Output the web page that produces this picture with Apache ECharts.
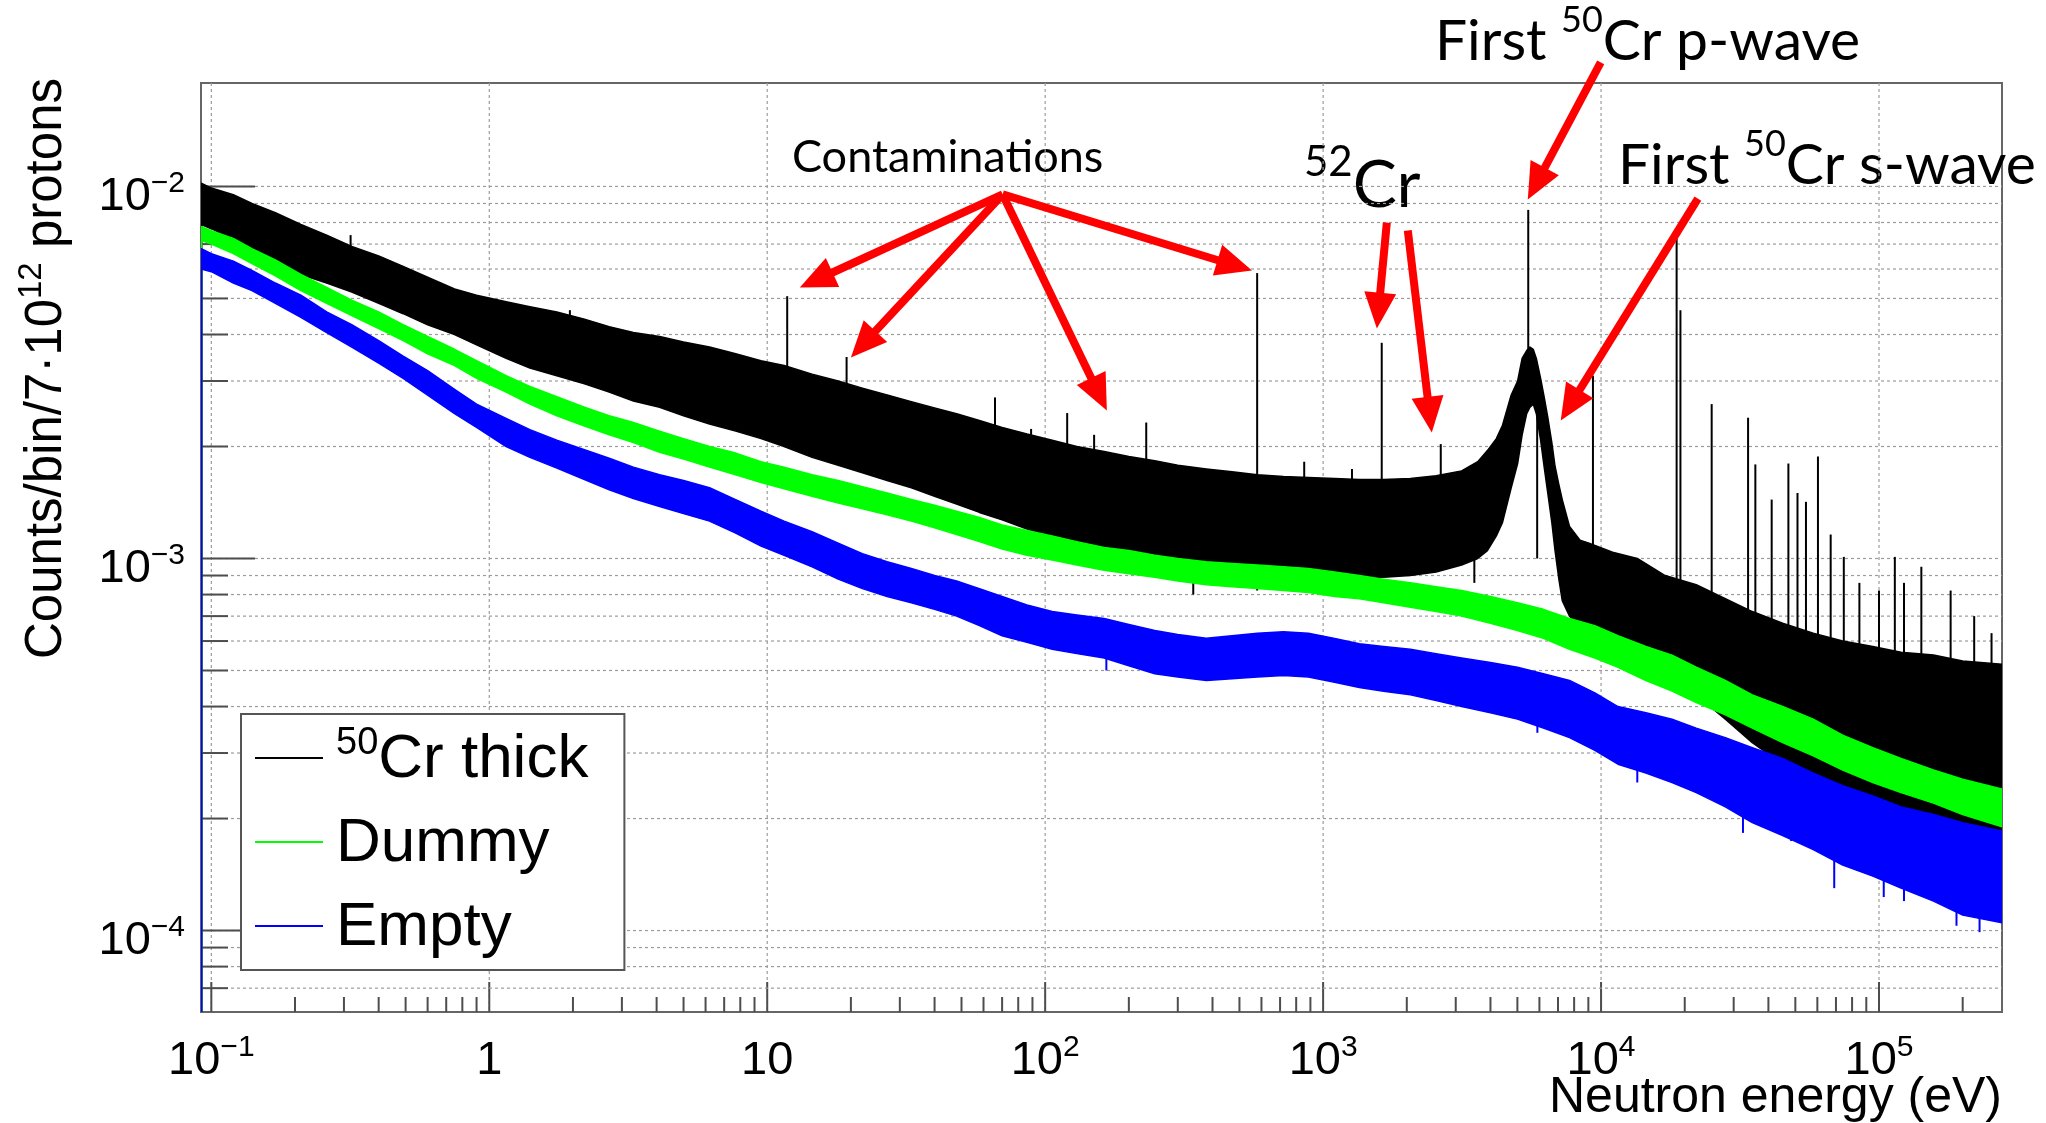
<!DOCTYPE html>
<html>
<head>
<meta charset="utf-8">
<title>50Cr capture yield – neutron energy spectra</title>
<script src="https://cdn.jsdelivr.net/npm/echarts@6.0.0/dist/echarts.min.js"></script>
<style>
  html, body { margin: 0; padding: 0; background: #ffffff; }
  #chart { width: 2046px; height: 1123px; }
</style>
</head>
<body>
<div id="chart"></div>
<script>
// Counts per bin are written in units of 1e-3 counts/bin/7·10^12 protons.
const UNIT = 1e-3;

// 50Cr thick sample: lower / upper edge of the (noisy) histogram band
const blackEnergy = [0.092,0.1,0.12,0.14,0.17,0.21,0.26,0.32,0.4,0.49,
  0.6,0.75,0.9,1.15,1.4,1.75,2.2,2.7,3.3,4.1,
  5,6.2,7.7,9.5,11.5,14.5,18,22,27,33,
  40,48,58,70,86,106,130,163,200,248,
  300,380,470,580,720,885,1100,1350,1650,2060,
  2550,3150,3600,3900,4200,4420,4750,5010,5200,5400,
  5550,5700,5850,6060,6250,6430,6650,6830,7050,7250,
  7700,8400,9050,11000,13500,17000,22000,28000,35000,45000,
  58000,74000,95000,120000,157000,200000,277000];
const blackLow = [7.9,7.7,7.2,6.7,6.3,5.8,5.5,5.2,4.85,4.55,
  4.25,4.0,3.75,3.45,3.25,3.1,2.95,2.8,2.65,2.55,
  2.42,2.3,2.2,2.1,2.0,1.87,1.78,1.7,1.62,1.55,
  1.47,1.4,1.33,1.27,1.2,1.14,1.09,1.05,1.01,0.98,
  0.96,0.94,0.93,0.92,0.91,0.90,0.89,0.89,0.89,0.90,
  0.92,0.96,1.0,1.05,1.15,1.25,1.55,1.8,2.15,2.45,
  2.55,2.6,2.45,2.08,1.75,1.5,1.25,1.05,0.88,0.77,
  0.70,0.66,0.63,0.60,0.55,0.48,0.43,0.37,0.32,0.28,
  0.26,0.23,0.21,0.19,0.175,0.165,0.16];
const blackHigh = [10.2,9.9,9.5,9.0,8.5,7.9,7.4,6.9,6.5,6.1,
  5.7,5.3,5.1,4.9,4.75,4.6,4.4,4.2,4.05,3.95,
  3.82,3.7,3.55,3.4,3.3,3.13,3.0,2.87,2.75,2.64,
  2.54,2.45,2.35,2.25,2.16,2.08,2.0,1.94,1.88,1.83,
  1.78,1.74,1.71,1.68,1.66,1.65,1.64,1.63,1.63,1.64,
  1.67,1.72,1.82,1.95,2.10,2.28,2.75,3.0,3.45,3.62,
  3.70,3.65,3.45,3.05,2.70,2.40,2.05,1.77,1.58,1.44,
  1.22,1.12,1.10,1.04,1.0,0.9,0.85,0.78,0.72,0.67,
  0.63,0.6,0.58,0.56,0.55,0.53,0.52];

// Narrow resonances / contaminant lines on top of the 50Cr spectrum
const blackPeakEnergy = [0.317,1.95,11.8,19.3,66,89,120,150,231,579,
  855,1270,1625,2650,3300,5470,9350,18700,19300,25000,
  33800,35900,41100,47200,50900,54600,60300,67000,74700,85000,
  100000,114000,123000,142000,181000,220000,254000];
const blackPeakTop = [7.4,4.65,5.07,3.48,2.71,2.23,2.46,2.15,2.32,5.85,
  1.82,1.74,3.8,2.03,1.75,8.65,3.1,7.36,4.65,2.6,
  2.39,1.79,1.44,1.80,1.5,1.42,1.88,1.16,1.01,0.86,
  0.82,1.01,0.86,0.95,0.82,0.70,0.63];
const blackPeakBase = [6.0,3.8,2.6,2.3,1.8,1.6,1.5,1.4,1.3,1.25,
  1.2,1.2,1.2,1.2,1.3,3.0,0.85,0.7,0.7,0.6,
  0.55,0.55,0.5,0.5,0.45,0.45,0.45,0.4,0.4,0.4,
  0.4,0.4,0.4,0.4,0.4,0.35,0.35];
const blackDipEnergy = [341,579,3500,5890];
const blackDipBottom = [0.80,0.82,0.86,1.0];
const blackDipTop = [1.2,1.2,1.2,2.5];

// Dummy and Empty runs share one energy grid
const backgroundEnergy = [0.092,0.1,0.12,0.14,0.17,0.21,0.26,0.32,0.4,0.49,
  0.6,0.75,0.9,1.15,1.4,1.75,2.2,2.7,3.3,4.1,
  5,6.2,7.7,9.5,11.5,14.5,18,22,27,33,
  40,48,58,70,86,106,130,163,200,248,
  300,380,470,580,720,885,1100,1350,1650,2060,
  2550,3150,4000,5000,6200,7700,9500,11500,14500,18000,
  22000,28000,35000,45000,58000,74000,95000,120000,157000,200000,
  277000];
const dummyLow = [7.15,7.0,6.6,6.2,5.75,5.25,4.85,4.5,4.15,3.85,
  3.55,3.3,3.05,2.8,2.6,2.42,2.27,2.15,2.05,1.93,
  1.85,1.76,1.68,1.6,1.54,1.47,1.41,1.36,1.31,1.26,
  1.21,1.16,1.11,1.06,1.02,0.99,0.96,0.93,0.91,0.89,
  0.87,0.85,0.84,0.83,0.82,0.81,0.79,0.78,0.76,0.74,
  0.72,0.70,0.67,0.64,0.61,0.57,0.54,0.51,0.47,0.44,
  0.41,0.38,0.35,0.32,0.295,0.27,0.25,0.235,0.22,0.205,
  0.19];
const dummyHigh = [7.8,7.6,7.25,6.8,6.35,5.8,5.35,4.95,4.6,4.25,
  3.95,3.65,3.4,3.1,2.9,2.72,2.55,2.42,2.32,2.2,
  2.1,2.0,1.92,1.82,1.76,1.68,1.62,1.56,1.5,1.44,
  1.39,1.34,1.29,1.23,1.19,1.15,1.11,1.07,1.05,1.02,
  1.0,0.98,0.97,0.96,0.95,0.94,0.92,0.90,0.88,0.86,
  0.84,0.82,0.79,0.76,0.73,0.69,0.66,0.62,0.58,0.55,
  0.51,0.47,0.43,0.40,0.37,0.335,0.31,0.29,0.27,0.255,
  0.24];
const emptyLow = [6.0,5.9,5.5,5.25,4.85,4.45,4.05,3.7,3.35,3.05,
  2.75,2.45,2.25,2.0,1.87,1.75,1.63,1.53,1.45,1.38,
  1.32,1.26,1.17,1.08,1.02,0.95,0.88,0.83,0.79,0.76,
  0.73,0.70,0.66,0.62,0.595,0.57,0.555,0.54,0.515,0.49,
  0.48,0.47,0.475,0.48,0.485,0.48,0.465,0.45,0.44,0.43,
  0.415,0.40,0.385,0.37,0.35,0.33,0.305,0.28,0.265,0.25,
  0.235,0.215,0.195,0.18,0.165,0.15,0.14,0.13,0.12,0.11,
  0.105];
const emptyHigh = [6.8,6.6,6.3,5.95,5.5,5.1,4.6,4.25,3.85,3.5,
  3.2,2.85,2.6,2.38,2.22,2.08,1.96,1.86,1.76,1.68,
  1.62,1.55,1.44,1.34,1.26,1.18,1.1,1.03,0.98,0.94,
  0.9,0.87,0.83,0.79,0.75,0.72,0.705,0.69,0.665,0.64,
  0.625,0.61,0.62,0.63,0.635,0.63,0.61,0.59,0.58,0.57,
  0.555,0.54,0.525,0.51,0.49,0.47,0.435,0.40,0.385,0.37,
  0.35,0.33,0.31,0.29,0.265,0.245,0.23,0.215,0.205,0.195,
  0.185];
const emptyDipEnergy = [166,5900,13500,32400,48300,69000,104000,123000,190000,230000];
const emptyDipBottom = [0.50,0.34,0.25,0.183,0.174,0.13,0.123,0.12,0.103,0.099];
const emptyDipTop = [0.58,0.42,0.33,0.25,0.22,0.19,0.17,0.165,0.15,0.14];

// Axis decades and minor multipliers (log axes)
const xDecades = [0.1, 1, 10, 100, 1000, 10000, 100000];
const yDecades = [1e-5, 1e-4, 1e-3, 1e-2];
const minorMultipliers = [2, 3, 4, 5, 6, 7, 8, 9];
const X_MIN = 0.0918, X_MAX = 2.77e5, Y_MIN = 6.04e-5, Y_MAX = 1.897e-2;

// Annotation arrows: tail (energy, counts) -> head (energy, counts)
const arrowFromEnergy = [70.3, 70.3, 70.3, 70.3, 1695, 2017, 9970, 22300];
const arrowFromCounts = [9.52, 9.52, 9.52, 9.52, 8.0, 7.61, 21.54, 9.28];
const arrowToEnergy = [13.1, 20.0, 166.7, 554.6, 1561, 2460, 5450, 7160];
const arrowToCounts = [5.35, 3.47, 2.50, 5.94, 4.15, 2.18, 9.23, 2.35];

const SERIES_NAMES = ['50Cr thick', 'Dummy', 'Empty'];
const NOTE_FONT = 'Lato';

function bandSeries(name, color, energy, low, high, z) {
  const data = energy.map((e, i) => [e, low[i] * UNIT, high[i] * UNIT]);
  return {
    name: name, type: 'custom', coordinateSystem: 'cartesian2d', z: z, silent: true, clip: true,
    itemStyle: { color: color },
    encode: { x: 0, y: [1, 2] },
    data: data,
    renderItem: function (params, api) {
      if (params.dataIndex !== 0) return null;
      const top = data.map(d => api.coord([d[0], d[2]]));
      const bottom = data.map(d => api.coord([d[0], d[1]]));
      const floor = api.coord([data[0][0], Y_MIN]);
      return {
        type: 'group',
        children: [
          { type: 'polygon', shape: { points: top.concat(bottom.slice().reverse()) },
            style: { fill: color, stroke: color, lineWidth: 1.5, lineJoin: 'round' } },
          { type: 'line', shape: { x1: floor[0], y1: floor[1], x2: bottom[0][0], y2: bottom[0][1] },
            style: { stroke: color, lineWidth: 2.5 } }
        ]
      };
    }
  };
}

function segmentSeries(color, energy, from, to, width, z) {
  return {
    type: 'custom', coordinateSystem: 'cartesian2d', z: z, silent: true, clip: true,
    encode: { x: 0, y: [1, 2] },
    data: energy.map((e, i) => [e, from[i] * UNIT, to[i] * UNIT]),
    renderItem: function (params, api) {
      const a = api.coord([api.value(0), api.value(1)]);
      const b = api.coord([api.value(0), api.value(2)]);
      return { type: 'line', shape: { x1: a[0], y1: a[1], x2: b[0], y2: b[1] },
               style: { stroke: color, lineWidth: width } };
    }
  };
}

// Dotted grid and inward ROOT-style ticks (major at decades, minor at 2..9)
const axisDecor = {
  type: 'custom', coordinateSystem: 'cartesian2d', z: 1, silent: true, clip: false,
  data: [[1, 1e-3]],
  renderItem: function (params, api) {
    const cs = params.coordSys;
    const left = cs.x, top = cs.y, right = cs.x + cs.width, bottom = cs.y + cs.height;
    const kids = [];
    const gridStyle = { stroke: '#9c9c9c', lineWidth: 1.2, lineDash: [3, 3] };
    const tickStyle = { stroke: '#4d4d4d', lineWidth: 2 };
    const seg = (x1, y1, x2, y2, style) =>
      kids.push({ type: 'line', shape: { x1: x1, y1: y1, x2: x2, y2: y2 }, style: style });
    xDecades.forEach(d => {
      const x = api.coord([d, Y_MIN])[0];
      seg(x, top, x, bottom, gridStyle);
      seg(x, bottom, x, bottom - 30, tickStyle);
      minorMultipliers.forEach(m => {
        if (d * m < X_MAX) {
          const xm = api.coord([d * m, Y_MIN])[0];
          seg(xm, bottom, xm, bottom - 15, tickStyle);
        }
      });
    });
    yDecades.forEach(d => {
      [1].concat(minorMultipliers).forEach(m => {
        const v = d * m;
        if (v <= Y_MIN || v >= Y_MAX) return;
        const y = api.coord([X_MIN, v])[1];
        seg(left, y, right, y, gridStyle);
        seg(left, y, left + (m === 1 ? 54 : 27), y, tickStyle);
      });
    });
    return { type: 'group', children: kids };
  }
};

const arrowSeries = {
  type: 'custom', coordinateSystem: 'cartesian2d', z: 10, silent: true, clip: false,
  encode: { x: [0, 2], y: [1, 3] },
  data: arrowFromEnergy.map((e, i) => [e, arrowFromCounts[i] * UNIT, arrowToEnergy[i], arrowToCounts[i] * UNIT]),
  renderItem: function (params, api) {
    const p0 = api.coord([api.value(0), api.value(1)]);
    const p1 = api.coord([api.value(2), api.value(3)]);
    const dx = p1[0] - p0[0], dy = p1[1] - p0[1];
    const len = Math.hypot(dx, dy);
    const ux = dx / len, uy = dy / len;
    const headLen = 36, headHalf = 16;
    const bx = p1[0] - ux * headLen, by = p1[1] - uy * headLen;
    return {
      type: 'group',
      children: [
        { type: 'line', shape: { x1: p0[0], y1: p0[1], x2: bx + ux * 3, y2: by + uy * 3 },
          style: { stroke: '#ff0000', lineWidth: 8 } },
        { type: 'polygon',
          shape: { points: [p1, [bx - uy * headHalf, by + ux * headHalf], [bx + uy * headHalf, by - ux * headHalf]] },
          style: { fill: '#ff0000' } }
      ]
    };
  }
};

function powerLabel(v) {
  const p = Math.log10(v);
  const n = Math.round(p);
  if (Math.abs(p - n) > 1e-6) return '';
  if (n === 0) return '{b|1}';
  if (n === 1) return '{b|10}';
  return '{b|10}{s|' + (n < 0 ? '\u2212' + (-n) : n) + '}';
}
const labelRich = {
  b: { fontFamily: 'Liberation Sans', fontSize: 47, lineHeight: 52, verticalAlign: 'bottom', color: '#000' },
  s: { fontFamily: 'Liberation Sans', fontSize: 30, lineHeight: 27, verticalAlign: 'top', color: '#000' }
};

const chart = echarts.init(document.getElementById('chart'), null, { renderer: 'canvas' });
chart.setOption({
  animation: false,
  backgroundColor: '#ffffff',
  textStyle: { fontFamily: 'Liberation Sans' },
  grid: { left: 201, top: 83, width: 1801, height: 929, show: true,
          borderColor: '#666', borderWidth: 2, backgroundColor: 'transparent',
          containLabel: false, outerBoundsMode: 'none' },
  xAxis: {
    type: 'log', logBase: 10, min: X_MIN, max: X_MAX,
    axisLine: { show: false }, axisTick: { show: false }, splitLine: { show: false },
    axisLabel: { margin: 21, color: '#000', formatter: powerLabel, rich: labelRich,
                 showMinLabel: false, showMaxLabel: false }
  },
  yAxis: {
    type: 'log', logBase: 10, min: Y_MIN, max: Y_MAX,
    axisLine: { show: false }, axisTick: { show: false }, splitLine: { show: false },
    axisLabel: { margin: 16, color: '#000', formatter: powerLabel, rich: labelRich,
                 padding: [16, 0, 0, 0], showMinLabel: false, showMaxLabel: false }
  },
  legend: {
    left: 241, top: 714, orient: 'vertical', selectedMode: false,
    backgroundColor: '#ffffff', borderColor: '#555', borderWidth: 2,
    padding: [11, 36, 11, 14], itemGap: 22, itemWidth: 68, itemHeight: 2,
    data: SERIES_NAMES.map(n => ({ name: n, icon: 'rect' })),
    formatter: n => n === '50Cr thick' ? '{s|50}{t|Cr thick}' : '{t|' + n + '}',
    textStyle: {
      padding: [0, 0, 0, 8],
      rich: {
        t: { fontFamily: 'Liberation Sans', fontSize: 62, lineHeight: 66, verticalAlign: 'bottom', color: '#000' },
        s: { fontFamily: 'Liberation Sans', fontSize: 38, lineHeight: 39, verticalAlign: 'top', color: '#000' }
      }
    }
  },
  graphic: [
    { type: 'text', x: 44, y: 78, rotation: Math.PI / 2, silent: true,
      style: { text: '{t|Counts/bin/7\u00b710}{s|12}{t| protons}', align: 'right', verticalAlign: 'middle',
        rich: { t: { fontFamily: 'Liberation Sans', fontSize: 51, lineHeight: 57, verticalAlign: 'bottom', fill: '#000' },
                s: { fontFamily: 'Liberation Sans', fontSize: 33, lineHeight: 34, verticalAlign: 'top', fill: '#000' } } } },
    { type: 'text', x: 2002, y: 1098, silent: true,
      style: { text: 'Neutron energy (eV)', fontFamily: 'Liberation Sans', fontSize: 50,
               align: 'right', verticalAlign: 'middle', fill: '#000' } },
    { type: 'text', x: 792, y: 157, silent: true,
      style: { text: 'Contaminations', fontFamily: NOTE_FONT, fontSize: 45,
               align: 'left', verticalAlign: 'middle', fill: '#000' } },
    { type: 'text', x: 1304, y: 180, silent: true,
      style: { text: '{s|52}{m|Cr}', align: 'left', verticalAlign: 'middle',
        rich: { m: { fontFamily: NOTE_FONT, fontSize: 66, lineHeight: 78, verticalAlign: 'bottom', fill: '#000' },
                s: { fontFamily: NOTE_FONT, fontSize: 42, lineHeight: 50, verticalAlign: 'top', fill: '#000' } } } },
    { type: 'text', x: 1435, y: 36, silent: true,
      style: { text: '{m|First }{s|50}{m|Cr p-wave}', align: 'left', verticalAlign: 'middle',
        rich: { m: { fontFamily: NOTE_FONT, fontSize: 57, lineHeight: 68, verticalAlign: 'bottom', fill: '#000' },
                s: { fontFamily: NOTE_FONT, fontSize: 36, lineHeight: 42, verticalAlign: 'top', fill: '#000' } } } },
    { type: 'text', x: 1618, y: 160, silent: true,
      style: { text: '{m|First }{s|50}{m|Cr s-wave}', align: 'left', verticalAlign: 'middle',
        rich: { m: { fontFamily: NOTE_FONT, fontSize: 57, lineHeight: 68, verticalAlign: 'bottom', fill: '#000' },
                s: { fontFamily: NOTE_FONT, fontSize: 36, lineHeight: 42, verticalAlign: 'top', fill: '#000' } } } }
  ],
  series: [
    axisDecor,
    bandSeries('50Cr thick', '#000000', blackEnergy, blackLow, blackHigh, 2),
    segmentSeries('#000000', blackPeakEnergy, blackPeakBase, blackPeakTop, 2, 2),
    segmentSeries('#000000', blackDipEnergy, blackDipTop, blackDipBottom, 2, 2),
    bandSeries('Dummy', '#00ff00', backgroundEnergy, dummyLow, dummyHigh, 3),
    bandSeries('Empty', '#0000ff', backgroundEnergy, emptyLow, emptyHigh, 4),
    segmentSeries('#0000ff', emptyDipEnergy, emptyDipTop, emptyDipBottom, 2, 4),
    arrowSeries
  ]
});
</script>
</body>
</html>
